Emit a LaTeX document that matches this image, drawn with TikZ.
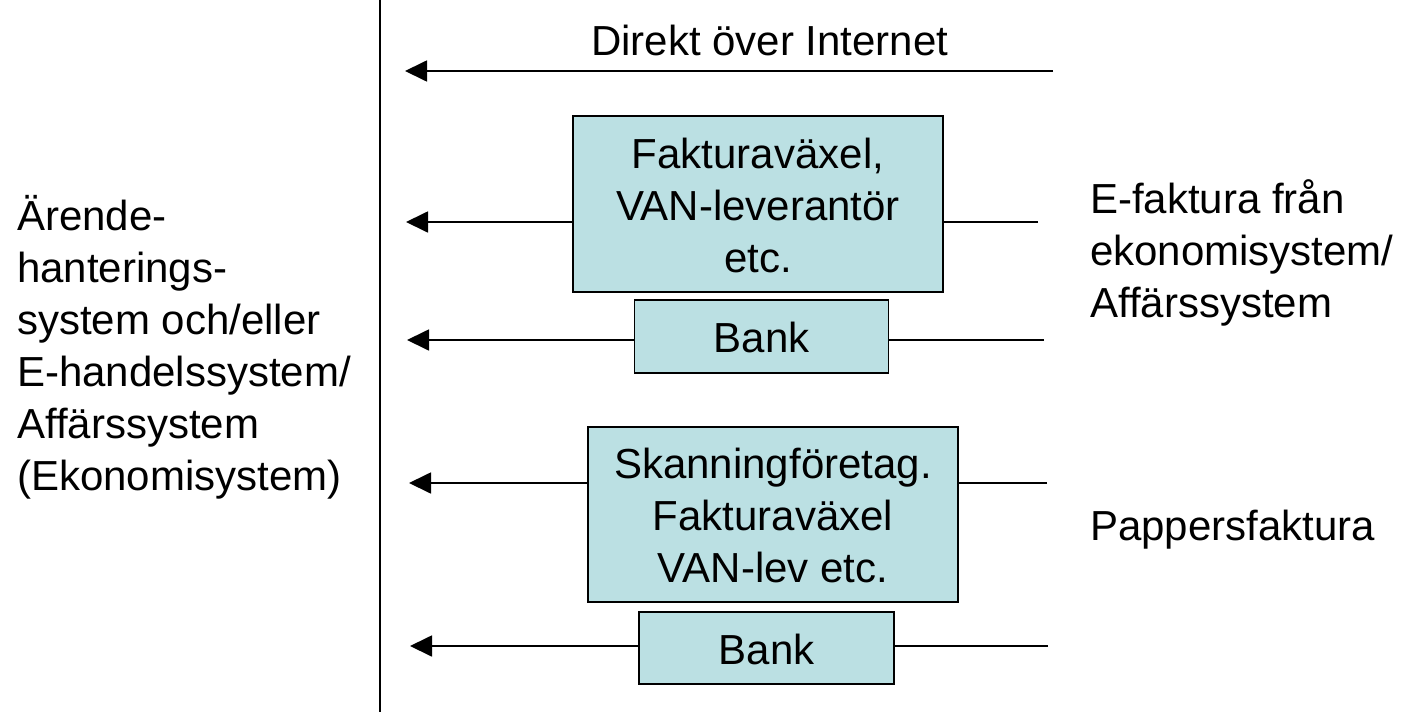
\documentclass[tikz,border=0pt]{standalone}
\usepackage{fontspec}
\setmainfont{Liberation Sans}
\usetikzlibrary{arrows.meta}
\definecolor{boxfill}{HTML}{BBE0E3}
\tikzset{
  txt/.style={inner sep=0pt, font=\fontsize{42pt}{52pt}\selectfont},
  infobox/.style={txt, draw=black, fill=boxfill, line width=1.8pt, align=center},
  conn/.style={draw=black, line width=1.8pt},
  arr/.style={conn, -{Triangle[length=22pt,width=21pt]}}
}
\begin{document}
\begin{tikzpicture}[x=1pt,y=-1pt]
\useasboundingbox (0,0) rectangle (1405,712);
% coordinates
\coordinate (vtop) at (380,0);
\coordinate (vbot) at (380,712);
\coordinate (t1) at (405,71);
\coordinate (r1) at (1053,71);
\coordinate (t2) at (406,222);
\coordinate (r2) at (1038,222);
\coordinate (t3) at (407,340);
\coordinate (r3) at (1044,340);
\coordinate (t4) at (409,483);
\coordinate (r4) at (1047,483);
\coordinate (t5) at (410,646);
\coordinate (r5) at (1048,646);
% vertical divider
\draw[conn, line width=1.6pt] (vtop) -- (vbot);
% boxes
\node[infobox, minimum width=370pt, minimum height=176pt] (box1) at (758,204)
  {\rule{0pt}{40pt}Fakturaväxel,\\VAN-leverantör\\etc.\rule[-8pt]{0pt}{8pt}};
\node[infobox, minimum width=254pt, minimum height=73pt] (bank1) at (761.5,336.5)
  {\rule[-8pt]{0pt}{48pt}Bank};
\node[infobox, minimum width=370pt, minimum height=175pt] (box2) at (773,514.5)
  {\rule{0pt}{40pt}Skanningföretag.\\Fakturaväxel\\VAN-lev etc.\rule[-8pt]{0pt}{8pt}};
\node[infobox, minimum width=255pt, minimum height=72pt] (bank2) at (766.5,648)
  {\rule[-8pt]{0pt}{48pt}Bank};
% connectors
\draw[arr] (r1) -- (t1);
\node[txt, anchor=base west] (direkt) at (591,55) {Direkt över Internet};
\draw[conn] (r2) -- (r2 -| box1.east);
\draw[arr] (t2 -| box1.west) -- (t2);
\draw[conn] (r3) -- (r3 -| bank1.east);
\draw[arr] (t3 -| bank1.west) -- (t3);
\draw[conn] (r4) -- (r4 -| box2.east);
\draw[arr] (t4 -| box2.west) -- (t4);
\draw[conn] (r5) -- (r5 -| bank2.east);
\draw[arr] (t5 -| bank2.west) -- (t5);
% side texts
\node[txt, anchor=north west, align=left] (lefttext) at (17,190)
  {\rule{0pt}{40pt}Ärende-\\hanterings-\\system och/eller\\E-handelssystem/\\Affärssystem\\(Ekonomisystem)};
\node[txt, anchor=north west, align=left] (efaktura) at (1090,173)
  {\rule{0pt}{40pt}E-faktura från\\ekonomisystem/\\Affärssystem};
\node[txt, anchor=north west, align=left] (papper) at (1090,500)
  {\rule{0pt}{40pt}Pappersfaktura};
\end{tikzpicture}
\end{document}
